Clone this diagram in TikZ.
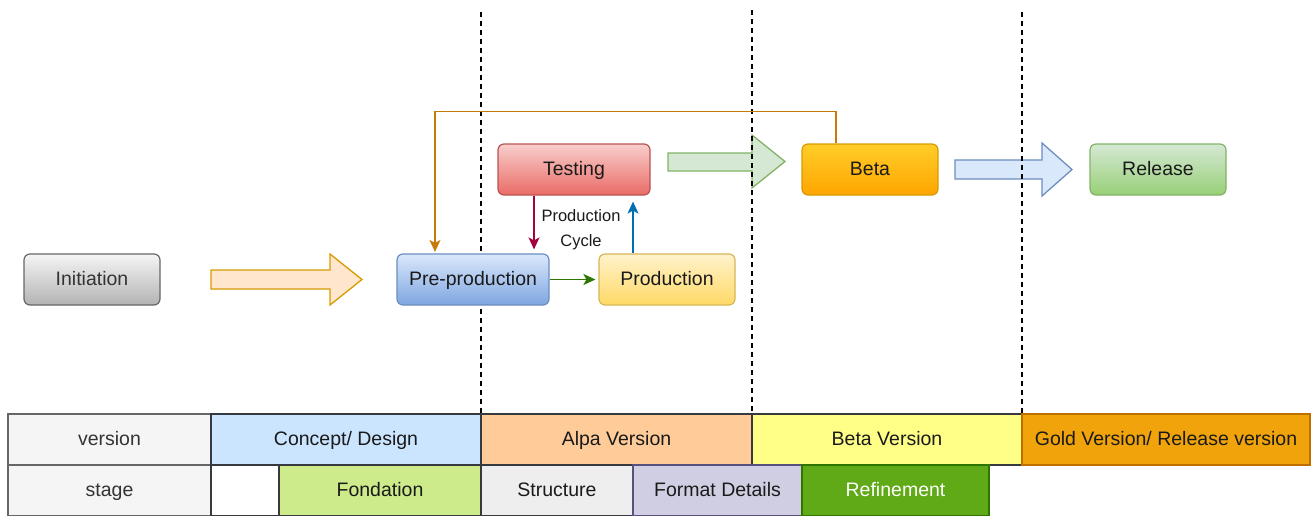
\documentclass[tikz,border=0pt]{standalone}
\usepackage{fontspec}
\setmainfont{Liberation Sans}
\usetikzlibrary{arrows.meta}
\definecolor{txt}{HTML}{1A1A1A}
\definecolor{gtxt}{HTML}{333333}
\definecolor{initT}{HTML}{F5F5F5}\definecolor{initB}{HTML}{B3B3B3}\definecolor{initS}{HTML}{666666}
\definecolor{preT}{HTML}{DAE8FC}\definecolor{preB}{HTML}{7EA6E0}\definecolor{preS}{HTML}{6C8EBF}
\definecolor{prodT}{HTML}{FFF2CC}\definecolor{prodB}{HTML}{FFD966}\definecolor{prodS}{HTML}{D6B656}
\definecolor{testT}{HTML}{F8CECC}\definecolor{testB}{HTML}{EA6B66}\definecolor{testS}{HTML}{B85450}
\definecolor{betaT}{HTML}{FFCD28}\definecolor{betaB}{HTML}{FFA500}\definecolor{betaS}{HTML}{D79B00}
\definecolor{relT}{HTML}{D5E8D4}\definecolor{relB}{HTML}{97D077}\definecolor{relS}{HTML}{82B366}
\definecolor{orgArF}{HTML}{FFE6CC}
\definecolor{cOrange}{HTML}{C57A0A}
\definecolor{cCrimson}{HTML}{A50040}
\definecolor{cBlue}{HTML}{006EAF}
\definecolor{cGreen}{HTML}{2D7600}
\definecolor{cellS}{HTML}{36393D}
\definecolor{fVer}{HTML}{F5F5F5}
\definecolor{fConcept}{HTML}{CCE5FF}
\definecolor{fAlpa}{HTML}{FFCC99}
\definecolor{fBeta}{HTML}{FFFF88}
\definecolor{fGold}{HTML}{F0A30A}\definecolor{sGold}{HTML}{BD7000}
\definecolor{fFond}{HTML}{CDEB8B}
\definecolor{fStruct}{HTML}{EEEEEE}
\definecolor{fFormat}{HTML}{D0CEE2}\definecolor{sFormat}{HTML}{56517E}
\definecolor{fRef}{HTML}{60A917}
\begin{document}
\begin{tikzpicture}[x=1pt,y=-1pt,
  proc/.style={rounded corners=6pt, draw, line width=1.2pt, minimum width=136pt,
    minimum height=51pt, inner sep=0pt, text height=14pt, text depth=3pt,
    font=\fontsize{19.5}{23}\selectfont, text=txt},
  blockarrow/.style={line width=1.3pt, line join=miter},
  conn/.style={line width=1.6pt, -{Stealth[length=12pt,width=11pt,inset=3pt]}},
  dashline/.style={line width=1.2pt, dash pattern=on 5pt off 4pt, black},
  cell/.style={draw=cellS, line width=1.3pt, minimum height=51pt, inner sep=0pt,
    text height=14pt, text depth=3pt,
    font=\fontsize{19.5}{23}\selectfont, text=txt},
  lbl/.style={font=\fontsize{16.5}{25}\selectfont, align=center, text=txt}]
\useasboundingbox (0,0) rectangle (1314,515);
% block arrows
\draw[blockarrow, draw=betaS, fill=orgArF] (211,270) -- (330,270) -- (330,254) -- (362,279.5) -- (330,305) -- (330,289) -- (211,289) -- cycle;
\draw[blockarrow, draw=relS, fill=relT] (668,153) -- (752,153) -- (752,135) -- (785,161.5) -- (752,188) -- (752,171) -- (668,171) -- cycle;
\draw[blockarrow, draw=preS, fill=preT] (955,160) -- (1042,160) -- (1042,143) -- (1072,169.5) -- (1042,196) -- (1042,179) -- (955,179) -- cycle;
% dashed separators
\coordinate (d1t) at (481,12); \coordinate (d1b) at (481,414);
\coordinate (d2t) at (752,10); \coordinate (d2b) at (752,414);
\coordinate (d3t) at (1022,12); \coordinate (d3b) at (1022,414);
\draw[dashline] (d1t) -- (d1b);
\draw[dashline] (d2t) -- (d2b);
\draw[dashline] (d3t) -- (d3b);
% nodes
\node[proc, draw=initS, top color=initT, bottom color=initB, text=gtxt] (init) at (92,279.5) {Initiation};
\node[proc, draw=preS, top color=preT, bottom color=preB, minimum width=152pt] (pre) at (473,279.5) {Pre-production};
\node[proc, draw=prodS, top color=prodT, bottom color=prodB] (prod) at (667,279.5) {Production};
\node[proc, draw=testS, top color=testT, bottom color=testB, minimum width=152pt] (test) at (574,169.5) {Testing};
\node[proc, draw=betaS, top color=betaT, bottom color=betaB] (beta) at (870,169.5) {Beta};
\node[proc, draw=relS, top color=relT, bottom color=relB] (rel) at (1158,169.5) {Release};
\node[lbl] (cycle) at (581,230) {Production\\Cycle};
% connectors
\coordinate (cTR) at (836,111.5);
\coordinate (cTL) at (435,111.5);
\draw[conn, cOrange, shorten >=1.5pt] ([xshift=-34pt]beta.north) -- (cTR) -- (cTL) -- ([xshift=-38pt]pre.north);
\draw[conn, cCrimson, shorten >=4pt] ([xshift=-40pt]test.south) -- ([xshift=61pt]pre.north);
\draw[conn, cBlue, shorten >=6pt] ([xshift=-34pt]prod.north) -- ([xshift=59pt]test.south);
\draw[conn, cGreen, shorten >=3pt] (pre.east) -- (prod.west);
% table row 1
\node[cell, draw=initS, fill=fVer, minimum width=203pt, text=gtxt] (tver) at (109.5,439.5) {version};
\node[cell, fill=fConcept, minimum width=270pt] (tconcept) at (346,439.5) {Concept/ Design};
\node[cell, fill=fAlpa, minimum width=271pt] (talpa) at (616.5,439.5) {Alpa Version};
\node[cell, fill=fBeta, minimum width=270pt] (tbeta) at (887,439.5) {Beta Version};
\node[cell, draw=sGold, fill=fGold, minimum width=288pt] (tgold) at (1166,439.5) {Gold Version/ Release version};
% table row 2
\node[cell, draw=initS, fill=fVer, minimum width=203pt, text=gtxt] (tstage) at (109.5,490.5) {stage};
\node[cell, fill=white, minimum width=68pt] (tblank) at (245,490.5) {};
\node[cell, fill=fFond, minimum width=202pt] (tfond) at (380,490.5) {Fondation};
\node[cell, fill=fStruct, minimum width=152pt] (tstruct) at (557,490.5) {Structure};
\node[cell, draw=sFormat, fill=fFormat, minimum width=169pt] (tformat) at (717.5,490.5) {Format Details};
\node[cell, draw=cGreen, fill=fRef, minimum width=187pt, text=white] (tref) at (895.5,490.5) {Refinement};
\end{tikzpicture}
\end{document}
